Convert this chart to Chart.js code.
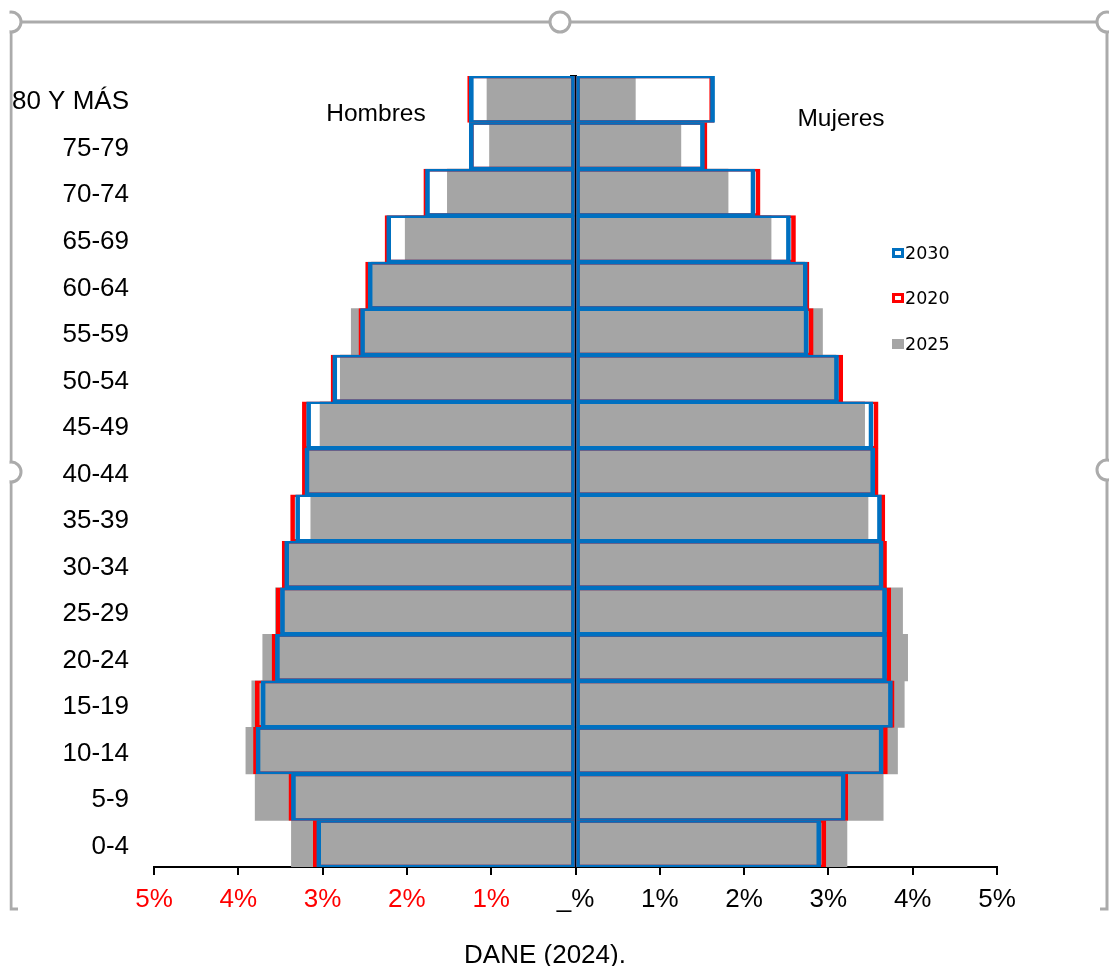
<!DOCTYPE html>
<html>
<head>
<meta charset="utf-8">
<script src="https://cdn.jsdelivr.net/npm/chart.js@4.4.1/dist/chart.umd.min.js"></script>
<style>
  body { margin: 0; background: #fff; font-family: "Liberation Sans", Arial, sans-serif; }
  #wrap { position: relative; width: 1109px; height: 966px; overflow: hidden; }
  #chart { position: absolute; left: 0; top: 0; }
  .lbl { position: absolute; font-size: 24.5px; color: #000; transform: translate(-50%, -50%); white-space: nowrap; }
  .lg { position: absolute; left: 892px; font-family: "DejaVu Sans", sans-serif; font-size: 17.5px; line-height: 18px; color: #000; }
  .sw { display: inline-block; width: 6px; height: 4px; border: 3px solid; background: #fff; margin-right: 1px; vertical-align: 1px; }
  #frame { position: absolute; left: 0; top: 0; }
</style>
</head>
<body>
<div id="wrap">
  <canvas id="chart" width="1109" height="966"></canvas>
  <div class="lbl" style="left:376px;top:113px">Hombres</div>
  <div class="lbl" style="left:841px;top:118px">Mujeres</div>
  <div class="lg" style="top:244px"><span class="sw" style="border-color:#0070C0"></span>2030</div>
  <div class="lg" style="top:289px"><span class="sw" style="border-color:#FF0000"></span>2020</div>
  <div class="lg" style="top:335px"><span class="sw" style="border-color:#A5A5A5;background:#A5A5A5"></span>2025</div>
  <div class="lbl" style="left:545px;top:954px;font-size:26px">DANE (2024).</div>
  <svg id="frame" width="1109" height="966">
    <g stroke="#ABABAB" stroke-width="3" fill="none">
      <line x1="11" y1="22" x2="1107" y2="22"/>
      <polyline points="18,909 11,909 11,22"/>
      <polyline points="1100,909 1107,909 1107,22"/>
    </g>
    <g stroke="#ABABAB" stroke-width="3" fill="#fff">
      <circle cx="11" cy="22" r="10"/>
      <circle cx="560" cy="22" r="10"/>
      <circle cx="1107" cy="22" r="10"/>
      <circle cx="11" cy="472" r="10"/>
      <circle cx="1107" cy="470" r="10"/>
    </g>
    <rect x="0" y="0" width="9.5" height="966" fill="#fff"/>
  </svg>
</div>
<script>
const grupos = ['80 Y MÁS', '75-79', '70-74', '65-69', '60-64', '55-59', '50-54', '45-49', '40-44',
  '35-39', '30-34', '25-29', '20-24', '15-19', '10-14', '5-9', '0-4'];

// hombres a la izquierda (negativos), mujeres a la derecha, en %
const hombres2030 = [-1.26, -1.26, -1.78, -2.24, -2.46, -2.55, -2.88, -3.19, -3.21, -3.32, -3.45, -3.50, -3.56, -3.73, -3.79, -3.37, -3.07];
const hombres2020 = [-1.28, -1.26, -1.80, -2.26, -2.49, -2.57, -2.90, -3.24, -3.24, -3.38, -3.48, -3.55, -3.60, -3.80, -3.82, -3.40, -3.11];
const hombres2025 = [-1.05, -1.02, -1.52, -2.02, -2.42, -2.66, -2.79, -3.03, -3.16, -3.14, -3.40, -3.56, -3.71, -3.84, -3.91, -3.80, -3.37];

const mujeres2030 = [1.65, 1.53, 2.13, 2.55, 2.75, 2.76, 3.12, 3.53, 3.55, 3.63, 3.65, 3.69, 3.69, 3.76, 3.65, 3.20, 2.91];
const mujeres2020 = [1.64, 1.56, 2.19, 2.61, 2.77, 2.82, 3.17, 3.59, 3.59, 3.67, 3.69, 3.74, 3.74, 3.78, 3.70, 3.23, 2.97];
const mujeres2025 = [0.71, 1.25, 1.81, 2.32, 2.72, 2.93, 3.09, 3.43, 3.51, 3.47, 3.61, 3.88, 3.94, 3.90, 3.82, 3.65, 3.22];

const xTicks = [-5, -4, -3, -2, -1, 0, 1, 2, 3, 4, 5];

const azul = '#0070C0', rojo = '#FF0000', gris = '#A5A5A5';
// borde grueso en el extremo, fino junto al eje central
const bordeIzq = {top: 2, bottom: 2, left: 4, right: 3};
const bordeDer = {top: 2, bottom: 2, left: 3, right: 4};

function caja(label, data, color, borde) {
  return {label: label, data: data, backgroundColor: 'rgba(0,0,0,0)', borderColor: color,
    borderWidth: borde, borderSkipped: false};
}
function relleno(label, data) {
  return {label: label, data: data, backgroundColor: gris, borderWidth: 0};
}

Chart.defaults.font.family = '"Liberation Sans", Arial, sans-serif';
Chart.defaults.color = '#000';

new Chart(document.getElementById('chart'), {
  type: 'bar',
  data: {
    labels: grupos,
    // el primero queda encima
    datasets: [
      caja('2030', hombres2030, azul, bordeIzq),
      caja('2030', mujeres2030, azul, bordeDer),
      caja('2020', hombres2020, rojo, bordeIzq),
      caja('2020', mujeres2020, rojo, bordeDer),
      relleno('2025', hombres2025),
      relleno('2025', mujeres2025)
    ]
  },
  options: {
    indexAxis: 'y',
    responsive: false,
    animation: false,
    grouped: false,
    categoryPercentage: 1,
    barPercentage: 1,
    layout: {padding: {top: 76, left: 0, right: 112, bottom: 54}},
    plugins: {legend: {display: false}, tooltip: {enabled: false}},
    scales: {
      x: {
        min: -5, max: 5,
        afterBuildTicks: s => { s.ticks = xTicks.map(v => ({value: v})); },
        ticks: {
          font: {size: 26},
          padding: 9,
          color: c => (c.tick && c.tick.value < 0) ? rojo : '#000',
          callback: v => v === 0 ? '_%' : Math.abs(v) + '%'
        },
        grid: {drawOnChartArea: false, color: '#000', lineWidth: 2, tickLength: 8},
        border: {color: '#000', width: 2},
        afterFit: s => { s.height = 45; }
      },
      y: {
        type: 'category',
        ticks: {font: {size: 26}, padding: 25, labelOffset: 3},
        grid: {display: false, drawTicks: false},
        border: {display: false},
        afterFit: s => { s.width = 154; }
      },
      centro: {
        type: 'category',
        axis: 'y',
        position: {x: 0},
        offset: true,
        z: 1,
        ticks: {display: false},
        grid: {drawOnChartArea: false, color: '#000', lineWidth: 2, tickLength: 5, offset: true},
        border: {color: '#000', width: 2}
      }
    }
  }
});
</script>
</body>
</html>
